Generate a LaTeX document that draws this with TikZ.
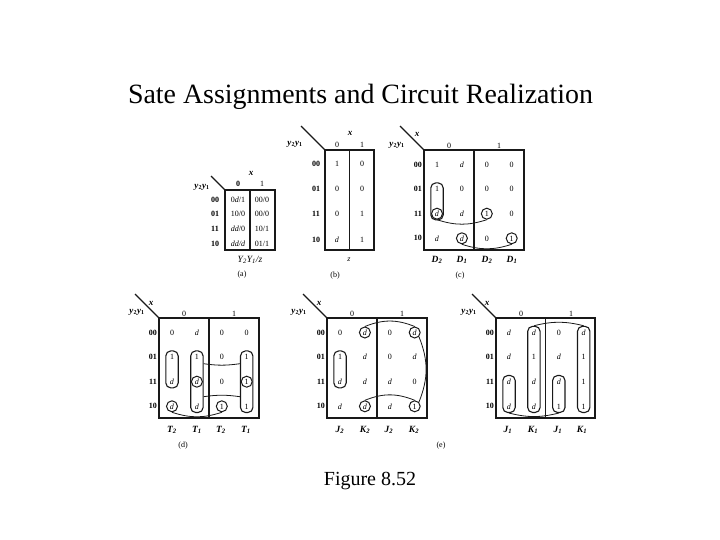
\documentclass[tikz,border=0pt]{standalone}
\usepackage{fontspec}
\setmainfont{Liberation Serif}
\usetikzlibrary{fit}
\newcommand{\dc}{\textit{d}}
\newcommand{\vy}[2]{\textit{#1}\textsubscript{#2}}
\tikzset{
  cell/.style={font=\fontsize{8}{9}\selectfont, text height=5.4pt, text depth=0pt, minimum size=8pt, inner sep=0pt},
  rowlabel/.style={font=\fontsize{8}{9}\selectfont\bfseries, inner sep=0pt},
  maplabel/.style={font=\fontsize{8}{9}\selectfont, inner sep=0pt},
  axlabel/.style={font=\fontsize{9}{10}\selectfont\bfseries, inner sep=0pt},
  caplabel/.style={font=\fontsize{9.5}{10}\selectfont\bfseries\itshape, inner sep=0pt},
  frameline/.style={draw=black!90, line width=1.1pt},
  loopbox/.style={draw=black!90, line width=1.1pt, rounded corners=5pt, inner sep=2pt},
  ring/.style={draw=black!90, circle, line width=1pt, minimum size=11pt, inner sep=0pt},
  link/.style={draw=black!90, line width=0.8pt}
}
\begin{document}
\begin{tikzpicture}[x=1pt, y=-1pt]
        \useasboundingbox (0,0) rectangle (720,540);
        % Titles
        \node[font=\fontsize{27.9}{30}\selectfont, inner sep=0pt] (title) at (360.5,96.5) {Sate Assignments and Circuit Realization};
        \node[font=\fontsize{20}{24}\selectfont, inner sep=0pt] (figname) at (370,481.5) {Figure 8.52};
        % Frames and corner strokes of all maps
        \foreach \mapn/\ox/\oy/\wd/\ht/\len in {a/225/190/50/60/14, b/325/150/49/100/24, c/424/150/100/100/24, d/159/318/100/100/24, e/327/318/100/100/24, f/496/318/99/100/24} {
            \draw[frameline] (\ox,\oy) rectangle (\ox+\wd,\oy+\ht);
            \draw[frameline] (\ox+\wd/2,\oy) -- (\ox+\wd/2,\oy+\ht);
            \coordinate (\mapn corner) at (\ox,\oy);
            \coordinate (\mapn tail) at (\ox-\len,\oy-\len);
            \draw[frameline] (\mapn corner) -- (\mapn tail);
        }
        % Map (a)
        \foreach \r/\ry/\lbl/\va/\vb in {1/200/00/{0\textit{d}/1}/{00/0}, 2/214/01/{10/0}/{00/0}, 3/229/11/{\textit{dd}/0}/{10/1}, 4/244/10/{\textit{dd/d}}/{01/1}} {
            \node[rowlabel] (arow\r) at (215,\ry) {\lbl};
            \node[cell] (a\r1) at (238,\ry) {\va};
            \node[cell] (a\r2) at (262,\ry) {\vb};
        }
        \node[axlabel] (ax) at (251,173) {\textit{x}};
        \node[axlabel] (ay) at (202,187) {\vy{y}{2}\vy{y}{1}};
        \node[rowlabel] (ahead1) at (238,184) {0};
        \node[maplabel] (ahead2) at (262,184) {1};
        \node[caplabel, font=\fontsize{9.5}{10}\selectfont\itshape] (aout) at (250,260) {\vy{Y}{2}\vy{Y}{1}/\textit{z}};
        \node[maplabel] (acap) at (242,275) {(a)};
        % Map (b)
        \foreach \r/\ry/\lbl/\va/\vb in {1/164/00/1/0, 2/189/01/0/0, 3/214/11/0/1, 4/240/10/\dc/1} {
            \node[rowlabel] (brow\r) at (316,\ry) {\lbl};
            \node[cell] (b\r1) at (337,\ry) {\va};
            \node[cell] (b\r2) at (362,\ry) {\vb};
        }
        \node[axlabel] (bx) at (350,133) {\textit{x}};
        \node[axlabel] (by) at (295,144) {\vy{y}{2}\vy{y}{1}};
        \node[maplabel] (bhead1) at (337,145) {0};
        \node[maplabel] (bhead2) at (362,145) {1};
        \node[maplabel] (bout) at (349,260) {\textit{z}};
        \node[maplabel] (bcap) at (335,276) {(b)};
        % Four-column maps, cells named map-row-column
        \foreach \mapn/\ox/\oy/\cells in {
            c/424/150/{1,\dc,0,0,1,0,0,0,\dc,\dc,1,0,\dc,\dc,0,1},
            d/159/318/{0,\dc,0,0,1,1,0,1,\dc,\dc,0,1,\dc,\dc,1,1},
            e/327/318/{0,\dc,0,\dc,1,\dc,0,\dc,\dc,\dc,\dc,0,\dc,\dc,\dc,1},
            f/496/318/{\dc,\dc,0,\dc,\dc,1,\dc,1,\dc,\dc,\dc,1,\dc,\dc,1,1}} {
            \foreach \val [count=\i from 0] in \cells {
                \pgfmathtruncatemacro{\r}{int(\i/4)+1}
                \pgfmathtruncatemacro{\c}{mod(\i,4)+1}
                \node[cell] (\mapn\r\c) at (\ox+13+24.9*\c-24.9,\oy+14.5+24.6*\r-24.6) {\val};
            }
            \foreach \r/\lbl in {1/00,2/01,3/11,4/10} {
                \node[rowlabel, left=0pt] (\mapn row\r) at (\ox-2,\oy+14.5+24.6*\r-24.6) {\lbl};
            }
            \node[maplabel] (\mapn head1) at (\ox+25,\oy-4) {0};
            \node[maplabel] (\mapn head2) at (\ox+75,\oy-4) {1};
        }
        % Axis names of the four-column maps
        \node[axlabel] (cx) at (417,134) {\textit{x}};
        \node[axlabel] (cy) at (397,145) {\vy{y}{2}\vy{y}{1}};
        \node[axlabel] (dx) at (151,303) {\textit{x}};
        \node[axlabel] (dy) at (137,312) {\vy{y}{2}\vy{y}{1}};
        \node[axlabel] (ex) at (319,303) {\textit{x}};
        \node[axlabel] (ey) at (299,312) {\vy{y}{2}\vy{y}{1}};
        \node[axlabel] (fx) at (487,303) {\textit{x}};
        \node[axlabel] (fy) at (469,312) {\vy{y}{2}\vy{y}{1}};
        % Column captions
        \foreach \c/\tx/\nm in {1/437/{\vy{D}{2}}, 2/462/{\vy{D}{1}}, 3/487/{\vy{D}{2}}, 4/512/{\vy{D}{1}}} {
            \node[caplabel] (ccol\c) at (\tx,260) {\nm};
        }
        \foreach \c/\tx/\nm in {1/172/{\vy{T}{2}}, 2/197/{\vy{T}{1}}, 3/221/{\vy{T}{2}}, 4/246/{\vy{T}{1}}} {
            \node[caplabel] (dcol\c) at (\tx,430) {\nm};
        }
        \foreach \c/\tx/\nm in {1/340/{\vy{J}{2}}, 2/365/{\vy{K}{2}}, 3/389/{\vy{J}{2}}, 4/414/{\vy{K}{2}}} {
            \node[caplabel] (ecol\c) at (\tx,430) {\nm};
        }
        \foreach \c/\tx/\nm in {1/508/{\vy{J}{1}}, 2/533/{\vy{K}{1}}, 3/558/{\vy{J}{1}}, 4/582/{\vy{K}{1}}} {
            \node[caplabel] (fcol\c) at (\tx,430) {\nm};
        }
        \node[maplabel] (ccap) at (460,276) {(c)};
        \node[maplabel] (dcap) at (183,446) {(d)};
        \node[maplabel] (ecap) at (441,446) {(e)};
        % Groups in map (c)
        \node[loopbox, fit=(c21)(c31)] (cloop) {};
        \foreach \name in {c31,c33,c42,c44} {
            \node[ring] (\name ring) at (\name) {};
        }
        \draw[link] (c31ring.south) to[bend right=18] (c33ring.south);
        \draw[link] (c42ring.south) to[bend right=18] (c44ring.south);
        % Groups in map (d)
        \node[loopbox, fit=(d21)(d31)] (dloopa) {};
        \node[loopbox, fit=(d22)(d42)] (dloopb) {};
        \node[loopbox, fit=(d24)(d44)] (dloopc) {};
        \foreach \name in {d32,d41,d43,d34} {
            \node[ring] (\name ring) at (\name) {};
        }
        \draw[link] (d41ring.south) to[bend right=18] (d43ring.south);
        \draw[link] ([yshift=18pt]dloopb.east) to[bend right=8] ([yshift=18pt]dloopc.west);
        \draw[link] ([yshift=-15pt]dloopb.east) to[bend left=8] ([yshift=-15pt]dloopc.west);
        % Groups in map (e)
        \node[loopbox, fit=(e21)(e31)] (eloop) {};
        \foreach \name in {e12,e14,e42,e44} {
            \node[ring] (\name ring) at (\name) {};
        }
        \draw[link] (e12ring.north) to[bend left=22] (e14ring.north);
        \draw[link] (e42ring.north) to[bend left=22] (e44ring.north);
        \draw[link] (e14ring.south east) to[bend left=22] (e44ring.north east);
        % Groups in the last map
        \node[loopbox, fit=(f31)(f41)] (floopa) {};
        \node[loopbox, fit=(f12)(f42)] (floopb) {};
        \node[loopbox, fit=(f33)(f43)] (floopc) {};
        \node[loopbox, fit=(f14)(f44)] (floopd) {};
        \draw[link] (floopa.south) to[bend right=14] (floopc.south);
        \draw[link] (floopb.north) to[bend left=14] (floopd.north);
    \end{tikzpicture}
\end{document}
